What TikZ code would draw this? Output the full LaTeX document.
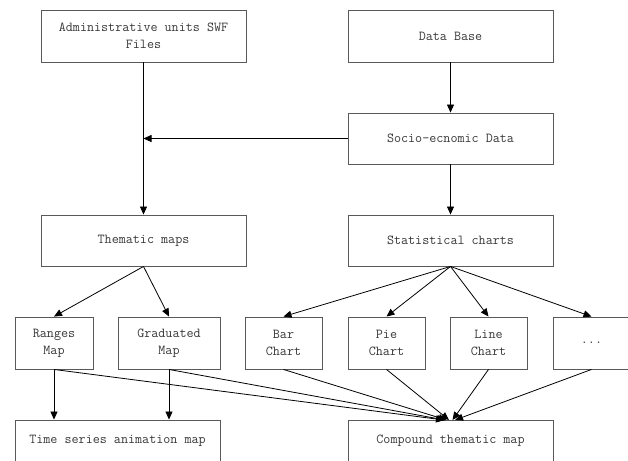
\documentclass[tikz,border=0pt]{standalone}
\usetikzlibrary{arrows.meta,calc}
\begin{document}
\begin{tikzpicture}[x=1pt,y=-1pt,
  box/.style={draw=black!65,line width=0.9pt,rectangle,inner sep=0pt,align=center,
    font=\fontsize{13.7}{16.8}\selectfont\ttfamily,text=black!78},
  arr/.style={draw=black,line width=0.8pt,-{Triangle[length=8pt,width=7pt]}},
  ln/.style={draw=black,line width=0.8pt}]
\useasboundingbox (0,0) rectangle (628,460);
\clip (0,0) rectangle (628,460);
\node[box,minimum width=205pt,minimum height=52pt] (admin) at (143.5,36) {Administrative units SWF\\Files};
\node[box,minimum width=205pt,minimum height=52pt] (db) at (450.5,36) {Data Base};
\node[box,minimum width=205pt,minimum height=51pt] (socio) at (450.5,138.5) {Socio-ecnomic Data};
\node[box,minimum width=205pt,minimum height=51pt] (them) at (143.5,240.5) {Thematic maps};
\node[box,minimum width=205pt,minimum height=51pt] (stat) at (450.5,240.5) {Statistical charts};
\node[box,minimum width=78pt,minimum height=52pt] (ranges) at (54,343) {Ranges\\Map};
\node[box,minimum width=102pt,minimum height=52pt] (grad) at (169,343) {Graduated\\Map};
\node[box,minimum width=77pt,minimum height=52pt] (bar) at (283.5,343) {Bar\\Chart};
\node[box,minimum width=77pt,minimum height=52pt] (pie) at (386.5,343) {Pie\\Chart};
\node[box,minimum width=77pt,minimum height=52pt] (line) at (488.5,343) {Line\\Chart};
\node[box,minimum width=77pt,minimum height=52pt] (dots) at (591.5,343) {...};
\node[box,minimum width=205pt,minimum height=42pt] (ts) at (117.5,441) {Time series animation map};
\node[box,minimum width=205pt,minimum height=42pt] (comp) at (450.5,441) {Compound thematic map};
\coordinate (j) at (143.5,138.5);
\coordinate (c1) at (444,420);
\coordinate (c2) at (445,420);
\coordinate (c3) at (446.5,420);
\coordinate (c4) at (449,420);
\coordinate (c5) at (452.5,420);
\coordinate (c6) at (455,420);
\draw[arr] (admin.south) -- (them.north);
\draw[arr] (socio.west) -- (j);
\draw[arr] (db.south) -- (socio.north);
\draw[arr] (socio.south) -- (stat.north);
\draw[arr] (them.south) -- (ranges.north);
\draw[arr] (them.south) -- (grad.north);
\draw[arr] (stat.south) -- (bar.north);
\draw[arr] (stat.south) -- (pie.north);
\draw[arr] (stat.south) -- (line.north);
\draw[arr] (stat.south) -- (dots.north);
\draw[arr] (ranges.south) -- (ranges.south |- ts.north);
\draw[arr] (grad.south) -- (grad.south |- ts.north);
\draw[arr] (ranges.south) -- (c1);
\draw[arr] (grad.south) -- (c2);
\draw[arr] (bar.south) -- (c3);
\draw[arr] (pie.south) -- (c4);
\draw[arr] (line.south) -- (c5);
\draw[arr] (dots.south) -- (c6);
\end{tikzpicture}
\end{document}
